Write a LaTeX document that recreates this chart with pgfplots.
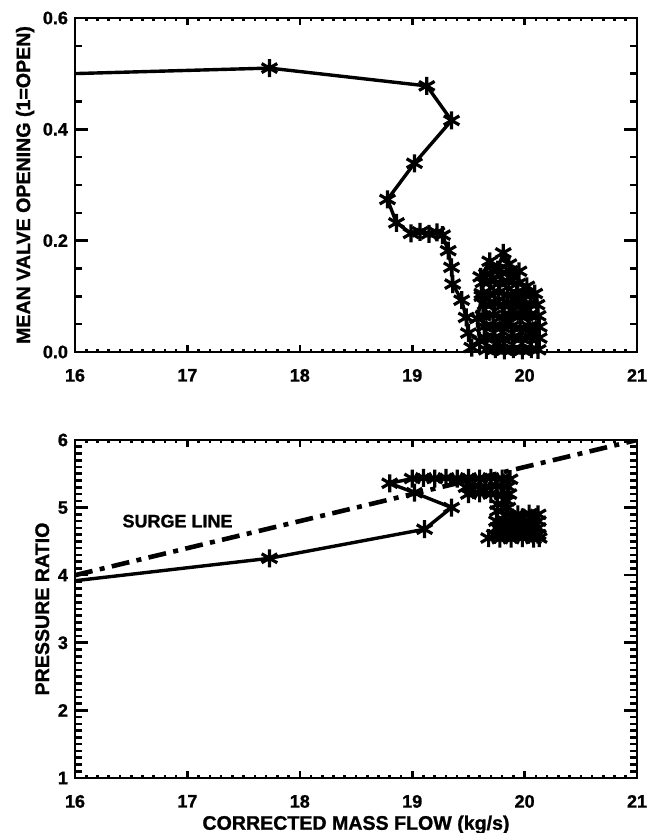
\documentclass[border=0pt]{standalone}
\usepackage{fontspec}
\setmainfont{Liberation Sans}[BoldFeatures={FakeBold=1.2}]
\usepackage{pgfplots}
\pgfplotsset{compat=1.18}

\begin{document}
\begin{tikzpicture}
\useasboundingbox (0,0) rectangle (328.5pt,416.5pt);
\pgfplotsset{
  refaxis/.style={
    scale only axis, width=281pt,
    xmin=16, xmax=21, xtick={16,...,21},
    minor xtick={16,16.1,...,21},
    tick align=inside, tick pos=both,
    major tick length=6.5pt, minor tick length=3.5pt,
    tick style={line width=1.3pt, black},
    every major x tick/.append style={/pgfplots/major tick length=3.6pt},
    every minor x tick/.append style={/pgfplots/minor tick length=1.7pt},
    axis line style={line width=1.1pt},
    tick label style={font=\fontsize{9}{10}\selectfont\bfseries},
    xticklabel style={yshift=-5pt},
    label style={font=\fontsize{9.8}{11}\selectfont\bfseries},
    ylabel shift=-2.5pt,
    /pgf/number format/assume math mode=true,
  },
  traj/.style={black, line width=1.7pt, line join=round,
    mark=asterisk, mark size=4.5pt, mark options={line width=1.6pt}},
}

% top: mean valve opening
\begin{axis}[refaxis, at={(37.5pt,240.5pt)}, anchor=south west, height=167pt,
  ymin=0, ymax=0.6, ytick={0,0.2,0.4,0.6}, minor ytick={0.05,0.1,...,0.6},
  yticklabel style={/pgf/number format/.cd,fixed,fixed zerofill,precision=1},
  ylabel={MEAN VALVE OPENING (1=OPEN)}]
\addplot[traj] coordinates {
  (15.8,0.499) (17.73,0.51) (19.13,0.478) (19.35,0.416) (19.02,0.339)
  (18.78,0.274) (18.86,0.232) (18.99,0.213) (19.07,0.216) (19.15,0.212)
  (19.22,0.215) (19.27,0.210) (19.32,0.182) (19.35,0.152) (19.36,0.122)
  (19.44,0.093) (19.48,0.062) (19.50,0.034) (19.53,0.008) (19.60,0.02)
  (19.58,0.06) (19.62,0.10) (19.61,0.135) (19.69,0.163) (19.76,0.148)
  (19.81,0.178) (19.86,0.158) (19.90,0.135)
  (19.95,0.145) (19.87,0.146) (19.80,0.142) (19.72,0.145) (19.66,0.140)
  (19.63,0.125) (19.70,0.127) (19.78,0.124) (19.86,0.126) (19.94,0.123) (20.02,0.118)
  (20.09,0.105) (20.01,0.104) (19.93,0.106) (19.85,0.103) (19.77,0.107) (19.69,0.104) (19.62,0.105)
  (19.65,0.085) (19.73,0.087) (19.81,0.084) (19.89,0.086) (19.97,0.083) (20.05,0.086) (20.11,0.085)
  (20.12,0.065) (20.04,0.066) (19.96,0.064) (19.88,0.066) (19.80,0.063) (19.72,0.066) (19.63,0.065)
  (19.64,0.045) (19.72,0.046) (19.80,0.044) (19.88,0.046) (19.96,0.043) (20.04,0.046) (20.13,0.045)
  (20.13,0.025) (20.05,0.026) (19.97,0.024) (19.89,0.026) (19.81,0.023) (19.73,0.026) (19.65,0.025)
  (19.66,0.004) (19.74,0.005) (19.82,0.003) (19.90,0.005) (19.98,0.003) (20.06,0.005) (20.12,0.004)
  (20.08,0.035) (19.99,0.075) (19.90,0.095) (19.83,0.055) (19.76,0.015)
};
\end{axis}

% bottom: pressure ratio
\begin{axis}[refaxis, at={(37.5pt,27.5pt)}, anchor=south west, height=169pt,
  ymin=1, ymax=6, ytick={1,...,6}, minor ytick={1.1,1.2,...,6},
  ylabel={PRESSURE RATIO}, xlabel={CORRECTED MASS FLOW (kg/s)},
  xlabel style={yshift=3pt}]
\addplot[black, line width=2.3pt, dash pattern=on 9pt off 3.7pt on 2.5pt off 3.7pt]
  coordinates {(16,4.0) (21,6.0)};
\addplot[traj] coordinates {
  (15.8,3.88) (17.73,4.25) (19.11,4.68) (19.35,5.00) (19.02,5.22)
  (18.80,5.36) (19.00,5.43) (19.10,5.44) (19.20,5.43) (19.30,5.44)
  (19.40,5.43) (19.50,5.44) (19.60,5.43) (19.70,5.44) (19.80,5.43)
  (19.87,5.42) (19.85,5.31) (19.75,5.32) (19.65,5.31) (19.55,5.32)
  (19.48,5.30) (19.50,5.20) (19.60,5.21) (19.70,5.20) (19.80,5.19)
  (19.86,5.20) (19.84,5.10) (19.76,5.05) (19.85,5.00) (19.76,4.95)
  (19.84,4.90) (19.94,4.90) (20.04,4.91) (20.12,4.90) (20.12,4.80)
  (20.03,4.80) (19.93,4.81) (19.83,4.80) (19.75,4.80) (19.76,4.70)
  (19.85,4.70) (19.95,4.71) (20.05,4.70) (20.12,4.70) (20.12,4.60)
  (20.03,4.60) (19.93,4.61) (19.83,4.60) (19.73,4.60) (19.68,4.55)
  (19.78,4.54) (19.88,4.54) (19.98,4.55) (20.08,4.54) (20.13,4.55)
  (20.00,4.65) (19.90,4.75) (19.98,4.85)
};
\node[anchor=west, font=\fontsize{9}{10}\selectfont\bfseries]
  at (axis cs:16.36,4.80) {SURGE LINE};
\end{axis}
\end{tikzpicture}
\end{document}
